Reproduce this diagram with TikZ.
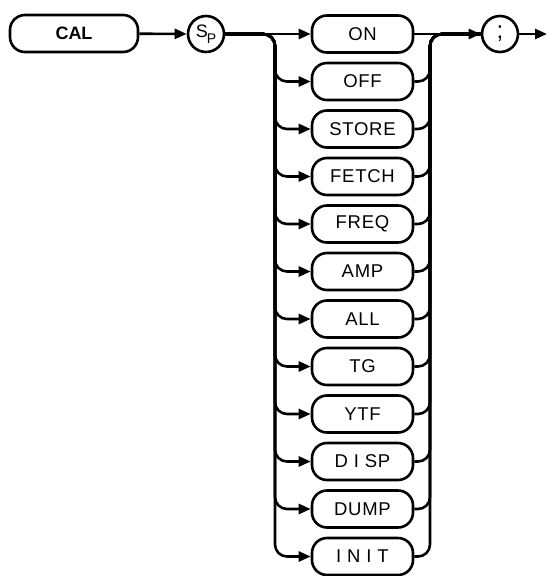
\documentclass[tikz,border=0pt]{standalone}
\usepackage{fontspec}
\setmainfont{Liberation Sans}
\newfontfamily\hpfont[LetterSpace=4]{Liberation Sans}
\usetikzlibrary{arrows.meta}
\begin{document}
\begin{tikzpicture}[x=1pt,y=-1pt,line width=2.6pt,>={Triangle[length=12pt,width=10pt]}]
    \tikzstyle{keyword}=[draw,rounded corners=15pt,minimum height=37pt,inner sep=0pt,font=\fontsize{18.5}{18.5}\selectfont\hpfont]
    \tikzstyle{option}=[keyword,minimum width=101pt]
    \tikzstyle{symbol}=[draw,circle,minimum size=36pt,inner sep=0pt]
    \tikzstyle{branch}=[->,rounded corners=12pt]
    \tikzstyle{merge}=[rounded corners=12pt]

    \useasboundingbox (0,0) rectangle (547,576);

    \node[keyword,minimum width=128pt,font=\fontsize{18}{18}\selectfont\bfseries] at (74,33.5) (cal) {CAL};
    \node[symbol] at (206,34) (sp) {\fontsize{18}{18}\selectfont\raisebox{2pt}{S}\hspace{-1pt}\raisebox{-4pt}{\fontsize{14}{14}\selectfont P}};
    \node[symbol] at (500,34) (semi) {\fontsize{24}{24}\selectfont ;};
    \coordinate (lbus) at (275,34);
    \coordinate (rbus) at (430,34);
    \coordinate (exit) at (547,34);

    \node[option] at (362.5,34) (on) {ON};
    \node[option] at (362.5,81.5) (off) {OFF};
    \node[option] at (362.5,129) (store) {STORE};
    \node[option] at (362.5,176.5) (fetch) {FETCH};
    \node[option] at (362.5,224) (freq) {FREQ};
    \node[option] at (362.5,271.5) (amp) {AMP};
    \node[option] at (362.5,319) (all) {ALL};
    \node[option] at (362.5,366.5) (tg) {TG};
    \node[option] at (362.5,414) (ytf) {YTF};
    \node[option] at (362.5,461.5) (disp) {D I SP};
    \node[option] at (362.5,509) (dump) {DUMP};
    \node[option] at (362.5,556.5) (init) {I N I T};

    \draw[->] (cal) -- (sp);
    \draw[->] (sp) -- (on);
    \draw[->] (on) -- (semi);
    \draw[->] (semi) -- (exit);

    \foreach \opt in {off,store,fetch,freq,amp,all,tg,ytf,disp,dump,init} {
        \draw[branch] (sp.east) -- (lbus) |- (\opt.west);
        \draw[merge] (\opt.east) -| (rbus) -- (semi.west);
    }
\end{tikzpicture}
\end{document}
